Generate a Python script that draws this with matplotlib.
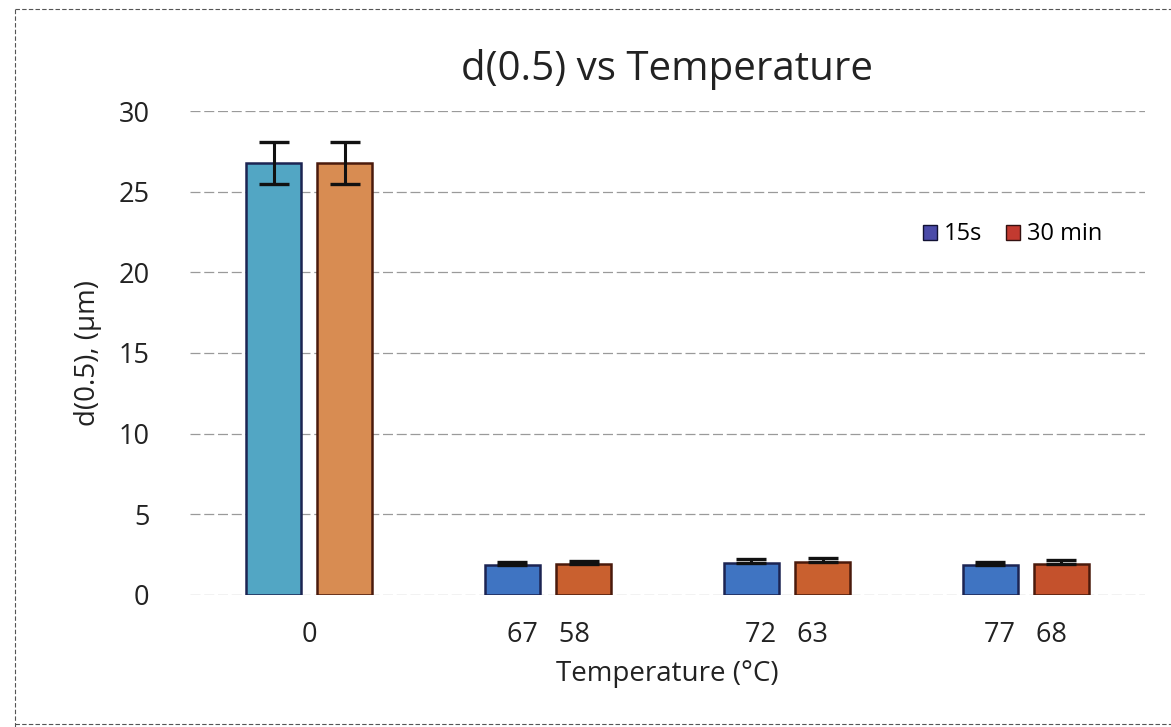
import numpy as np
import matplotlib.pyplot as plt
from matplotlib.patches import Patch
from matplotlib.lines import Line2D

plt.rcParams['font.family'] = ['Open Sans', 'DejaVu Sans']

# data
groups = ['0', '67   58', '72   63', '77   68']
series = ['15s', '30 min']
d50_15s = [26.8, 1.85, 2.0, 1.85]
d50_30min = [26.8, 1.9, 2.05, 1.95]
# upper / lower error (lower arm not visible on the small bars)
err_up_15s = [1.3, 0.22, 0.22, 0.22]
err_lo_15s = [1.3, 0.0, 0.0, 0.0]
err_up_30min = [1.3, 0.22, 0.22, 0.22]
err_lo_30min = [1.3, 0.0, 0.0, 0.0]

# bar fills (first group looks lighter in the scan)
fill_15s = ['#52a6c4', '#3f74c2', '#3f74c2', '#3f74c2']
fill_30min = ['#d88c52', '#c9602f', '#c9602f', '#c4512c']

fig = plt.figure(figsize=(11.71, 7.27), dpi=100)
ax = fig.add_axes([0.162, 0.1816, 0.816, 0.6657])

x = np.arange(len(groups))
w = 0.23
off = 0.149

ax.bar(x - off, d50_15s, w, color=fill_15s, edgecolor='#1c2452', linewidth=1.8, zorder=2)
ax.bar(x + off, d50_30min, w, color=fill_30min, edgecolor='#4a1a0c', linewidth=1.8, zorder=2)
ax.errorbar(x - off, d50_15s, yerr=[err_lo_15s, err_up_15s], fmt='none', ecolor='#111111',
            elinewidth=2.2, capsize=11, capthick=2.4, zorder=3)
ax.errorbar(x + off, d50_30min, yerr=[err_lo_30min, err_up_30min], fmt='none', ecolor='#111111',
            elinewidth=2.2, capsize=11, capthick=2.4, zorder=3)

ax.set_xlim(-0.5, len(groups) - 0.5)
ax.set_ylim(0, 30)
ax.set_yticks(range(0, 31, 5))
ax.set_xticks(x)
ax.set_xticklabels(groups)
ax.yaxis.grid(True, color='#9a9a9a', linewidth=0.9, linestyle=(0, (8, 3)), zorder=0)
ax.set_axisbelow(True)
for s in ax.spines.values():
    s.set_visible(False)
ax.tick_params(axis='both', length=0, labelsize=19.5, colors='#222222')
ax.tick_params(axis='x', pad=19)
ax.tick_params(axis='y', pad=29)

ax.set_title('d(0.5) vs Temperature', fontsize=29, color='#222222', pad=22)
ax.set_ylabel('d(0.5), (μm)', fontsize=20, color='#222222', labelpad=12)
ax.set_xlabel('Temperature (°C)', fontsize=20, color='#222222', labelpad=8)

handles = [Patch(facecolor='#4a4aa8', edgecolor='#111133', label=series[0]),
           Patch(facecolor='#c23a30', edgecolor='#331111', label=series[1])]
ax.legend(handles=handles, loc='center', bbox_to_anchor=(0.861, 0.745), ncol=2,
          frameon=False, fontsize=17, handlelength=0.6, handleheight=0.6,
          handletextpad=0.3, columnspacing=1.0)

# chart area border (left and top visible in the scan)
fig.add_artist(Line2D([0.013, 0.013], [0.0, 0.988], color='#555555', lw=0.8,
                      linestyle=(0, (4, 2))))
fig.add_artist(Line2D([0.013, 1.0], [0.988, 0.988], color='#555555', lw=0.8,
                      linestyle=(0, (4, 2))))
fig.add_artist(Line2D([0.013, 1.0], [0.004, 0.004], color='#555555', lw=0.8,
                      linestyle=(0, (4, 2))))

fig.savefig('out.png', dpi=100)
